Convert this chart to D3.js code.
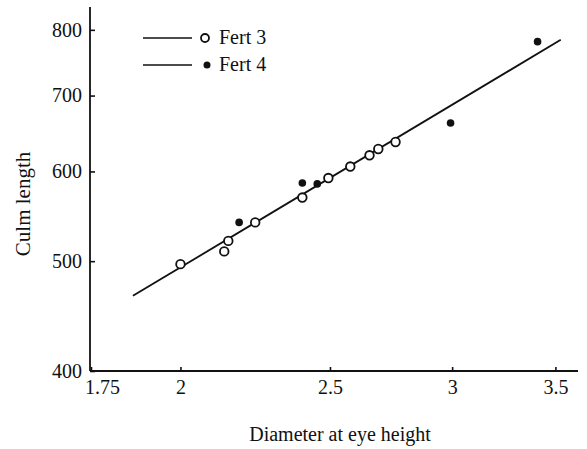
<!DOCTYPE html>
<html>
<head>
<meta charset="utf-8">
<script src="https://cdn.jsdelivr.net/npm/d3@7"></script>
<style>
  html, body { margin: 0; padding: 0; background: #fff; }
  svg text { font-family: "Liberation Serif", "DejaVu Serif", serif; font-size: 20px; fill: #111; }
</style>
</head>
<body>
<svg id="chart" width="587" height="449"></svg>
<script>
// Fert 3 (open circles)
const fert3Diameter = [2.00, 2.135, 2.148, 2.236, 2.399, 2.494, 2.577, 2.652, 2.687, 2.757];
const fert3Length   = [497, 510, 521, 541, 569, 592, 606, 620, 628, 637];
// Fert 4 (filled dots)
const fert4Diameter = [2.183, 2.399, 2.453, 2.993, 3.408];
const fert4Length   = [541, 586, 585, 662, 781];
// Fitted line (straight on log–log axes), end points
const fitDiameter = [1.863, 3.528];
const fitLength   = [466, 784];
// Axis ticks
const xTicks = [1.75, 2, 2.5, 3, 3.5];
const yTicks = [400, 500, 600, 700, 800];
const seriesNames = ["Fert 3", "Fert 4"];

const svg = d3.select("#chart");
const plotLeft = 90, plotRight = 578, plotTop = 7, plotBottom = 371;

const x = d3.scaleLog().domain([1.75, 3.62]).range([plotLeft + 1, plotRight]);
const y = d3.scaleLog().domain([400, 838]).range([plotBottom, plotTop]);

// axes
const xAxis = d3.axisBottom(x).tickValues(xTicks).tickFormat(d3.format("")).tickSizeInner(-4).tickSizeOuter(0).tickPadding(9);
const yAxis = d3.axisLeft(y).tickValues(yTicks).tickFormat(d3.format("d")).tickSizeInner(-5).tickSizeOuter(0).tickPadding(8);

const gx = svg.append("g").attr("transform", `translate(0,${plotBottom})`).call(xAxis);
gx.select(".domain").attr("d", `M${plotLeft},0H${plotRight}`).attr("stroke", "#111").attr("stroke-width", 1.8);
gx.selectAll(".tick line").attr("stroke", "#111").attr("stroke-width", 1.6);
// the corner label sits just right of the y axis, clear of "400"
gx.selectAll(".tick text").filter(d => d === xTicks[0]).attr("dx", 11);

const gy = svg.append("g").attr("transform", `translate(${plotLeft},0)`).call(yAxis);
gy.select(".domain").attr("d", `M0,${plotTop}V${plotBottom}`).attr("stroke", "#111").attr("stroke-width", 1.8);
gy.selectAll(".tick line").attr("stroke", "#111").attr("stroke-width", 1.6);

// axis titles
svg.append("text").attr("x", 340).attr("y", 441).attr("text-anchor", "middle")
  .text("Diameter at eye height");
svg.append("text").attr("transform", "translate(30,204) rotate(-90)").attr("text-anchor", "middle")
  .style("font-size", "21px").text("Culm length");

// fitted line
const fit = fitDiameter.map((d, i) => [d, fitLength[i]]);
svg.append("path").datum(fit)
  .attr("d", d3.line().x(d => x(d[0])).y(d => y(d[1])))
  .attr("fill", "none").attr("stroke", "#111").attr("stroke-width", 1.8);

// Fert 4 points
svg.append("g").selectAll("circle")
  .data(fert4Diameter.map((d, i) => [d, fert4Length[i]]))
  .join("circle")
  .attr("cx", d => x(d[0])).attr("cy", d => y(d[1])).attr("r", 3.8)
  .attr("fill", "#111");

// Fert 3 points
svg.append("g").selectAll("circle")
  .data(fert3Diameter.map((d, i) => [d, fert3Length[i]]))
  .join("circle")
  .attr("cx", d => x(d[0])).attr("cy", d => y(d[1])).attr("r", 4.3)
  .attr("fill", "#fff").attr("stroke", "#111").attr("stroke-width", 1.8);

// legend
const legend = svg.append("g");
const rows = [38, 65];
rows.forEach((ly, i) => {
  legend.append("line").attr("x1", 143).attr("x2", 192).attr("y1", ly).attr("y2", ly)
    .attr("stroke", "#111").attr("stroke-width", 1.3);
  if (i === 0) {
    legend.append("circle").attr("cx", 205).attr("cy", ly).attr("r", 4)
      .attr("fill", "#fff").attr("stroke", "#111").attr("stroke-width", 1.8);
  } else {
    legend.append("circle").attr("cx", 207).attr("cy", ly).attr("r", 3.5).attr("fill", "#111");
  }
  legend.append("text").attr("x", 219).attr("y", ly + 6).text(seriesNames[i]);
});
</script>
</body>
</html>
